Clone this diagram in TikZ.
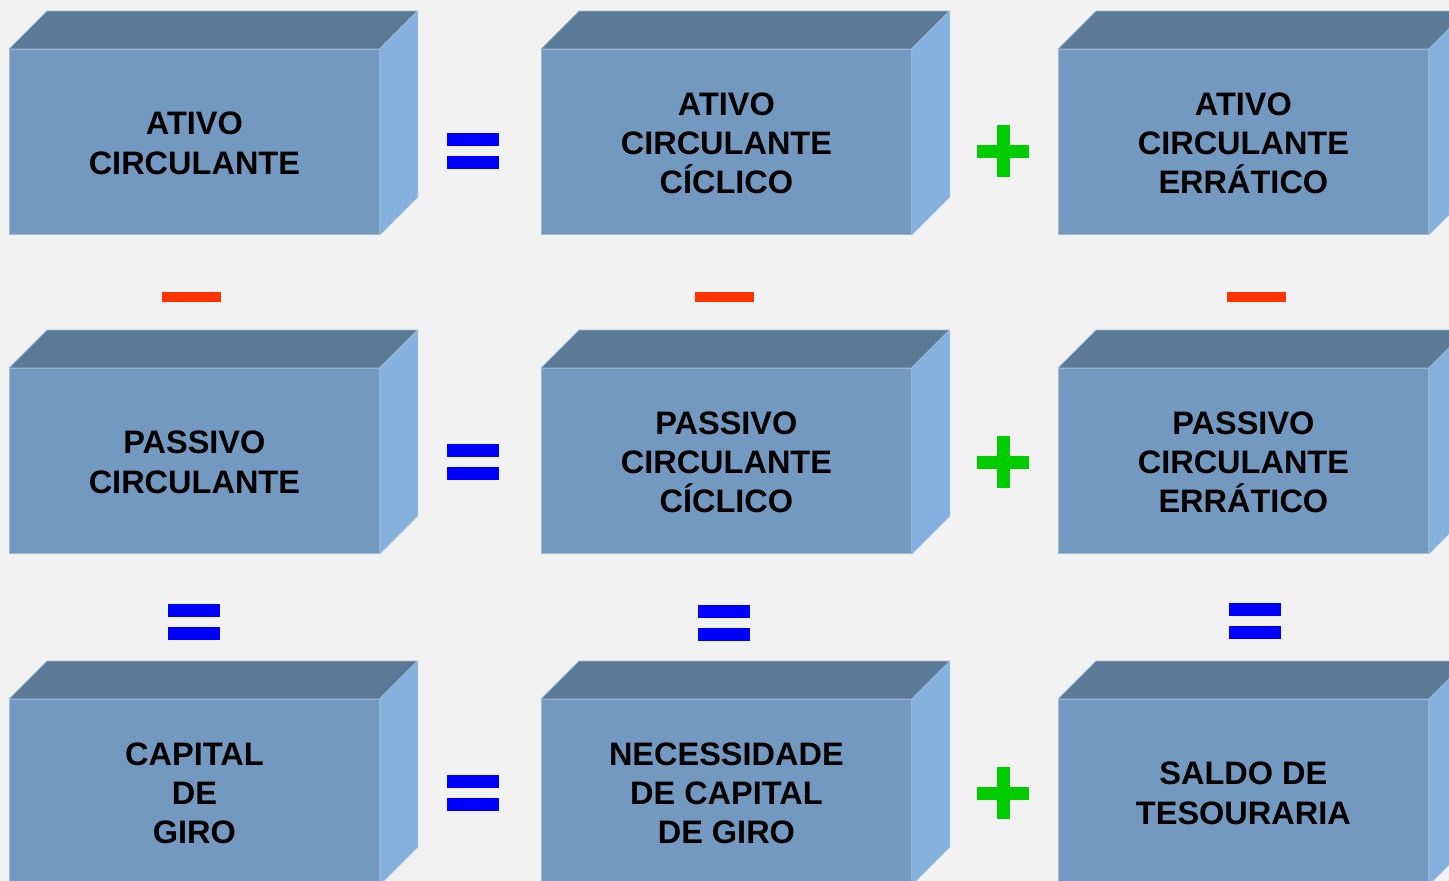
\documentclass[tikz,border=0pt]{standalone}
\usepackage{fontspec}
\setmainfont{Liberation Sans}
\usetikzlibrary{calc}
\definecolor{bgc}{HTML}{F2F2F2}
\definecolor{frontc}{HTML}{7499C1}
\definecolor{topc}{HTML}{5B7A98}
\definecolor{sidec}{HTML}{85B1DE}
\definecolor{edgec}{HTML}{9DB9D8}
\definecolor{eqc}{HTML}{0000FF}
\definecolor{plusc}{HTML}{00CC00}
\definecolor{minusc}{HTML}{FF3300}
\tikzset{
  front/.style={fill=frontc, draw=edgec, line width=0.8pt, minimum width=370pt, minimum height=185pt,
    anchor=north west, inner sep=0pt},
  label/.style={align=center, text=black, inner sep=0pt,
    font=\fontsize{32.5}{39.3}\selectfont\bfseries},
  topface/.style={fill=topc, draw=edgec, line width=0.8pt, line join=round},
  sideface/.style={fill=sidec, draw=edgec, line width=0.8pt, line join=round},
  eqbar/.style={fill=eqc},
  plusbar/.style={fill=plusc},
  minusbar/.style={fill=minusc}
}
\newcommand{\mycube}[4]{%
  \node[front] (#1) at (#2,#3) {};
  \node[label] (#1t) at ($(#1.center)+(0,1.5)$) {#4};
  \filldraw[topface] (#1.north west) -- ++(38,-38) -- ($(#1.north east)+(38,-38)$) -- (#1.north east) -- cycle;
  \filldraw[sideface] (#1.north east) -- ++(38,-38) -- ($(#1.south east)+(38,-38)$) -- (#1.south east) -- cycle;
}
\newcommand{\eqh}[2]{%
  \fill[eqbar] (#1-26,#2-18) rectangle (#1+26,#2-5);
  \fill[eqbar] (#1-26,#2+5) rectangle (#1+26,#2+18);
}
\newcommand{\plussign}[2]{%
  \fill[plusbar] (#1-6.5,#2-26) rectangle (#1+6.5,#2+26);
  \fill[plusbar] (#1-26,#2-6.5) rectangle (#1+26,#2+6.5);
}
\newcommand{\minussign}[2]{%
  \fill[minusbar] (#1-29.5,#2-5) rectangle (#1+29.5,#2+5);
}
\begin{document}
\begin{tikzpicture}[x=1pt,y=-1pt]
\useasboundingbox (0,0) rectangle (1449,881);
\fill[bgc] (0,0) rectangle (1449,881);
\clip (0,0) rectangle (1449,881);
% row 1
\mycube{a1}{9}{49}{ATIVO\\CIRCULANTE}
\mycube{a2}{541}{49}{ATIVO\\CIRCULANTE\\CÍCLICO}
\mycube{a3}{1058}{49}{ATIVO\\CIRCULANTE\\ERRÁTICO}
% row 2
\mycube{b1}{9}{368}{PASSIVO\\CIRCULANTE}
\mycube{b2}{541}{368}{PASSIVO\\CIRCULANTE\\CÍCLICO}
\mycube{b3}{1058}{368}{PASSIVO\\CIRCULANTE\\ERRÁTICO}
% row 3
\mycube{c1}{9}{699}{CAPITAL\\DE\\GIRO}
\mycube{c2}{541}{699}{NECESSIDADE\\DE CAPITAL\\DE GIRO}
\mycube{c3}{1058}{699}{SALDO DE\\TESOURARIA}
% operators between columns
\eqh{473}{151}
\plussign{1003}{151}
\eqh{473}{462}
\plussign{1003}{462}
\eqh{473}{793}
\plussign{1003}{793}
% minus signs between rows 1 and 2
\minussign{191.5}{297}
\minussign{724.5}{297}
\minussign{1256.5}{297}
% equals between rows 2 and 3
\eqh{193.5}{622}
\eqh{723.5}{623}
\eqh{1254.5}{620.5}
\end{tikzpicture}
\end{document}
